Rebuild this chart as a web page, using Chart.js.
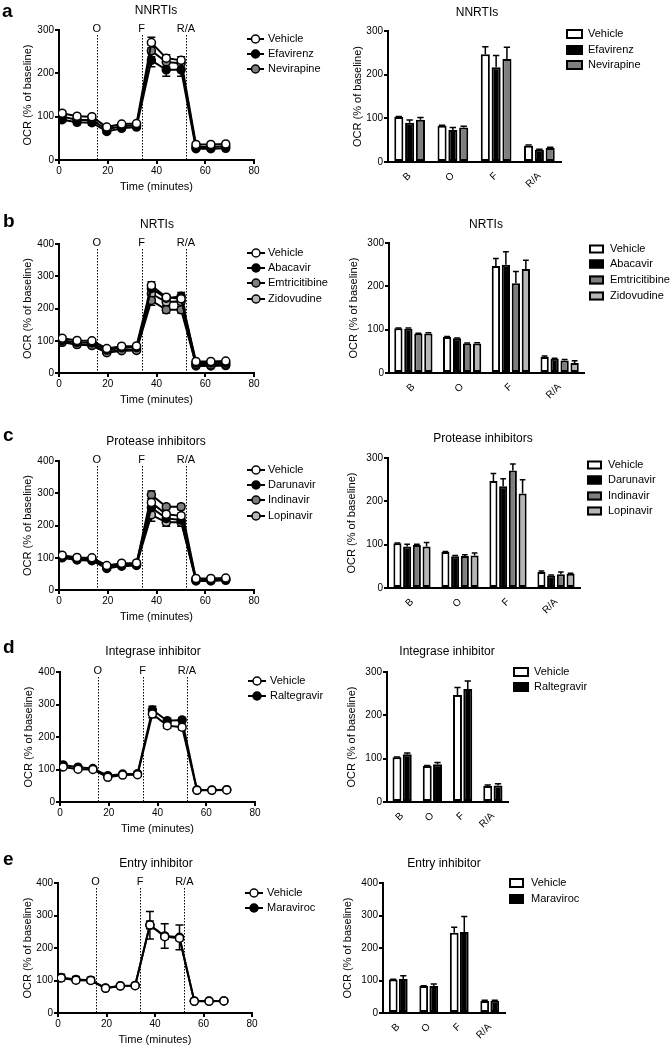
<!DOCTYPE html>
<html>
<head>
<meta charset="utf-8">
<script src="https://cdn.jsdelivr.net/npm/chart.js@4.4.1/dist/chart.umd.min.js"></script>
<style>
  html, body { margin: 0; padding: 0; background: #fff; }
  #page { position: relative; width: 670px; height: 1050px; overflow: hidden; }
  #page canvas { position: absolute; }
</style>
</head>
<body>
<div id="page"></div>
<script>
// --- time course data (Seahorse OCR, % of baseline) ---
const timePoints = [1.3, 7.4, 13.5, 19.6, 25.7, 31.8, 37.9, 44.0, 50.1, 56.2, 62.3, 68.4];
const injectionTimes = [15.5, 33.9, 52.1];
const injectionLabels = ["O", "F", "R/A"];

const vehicleTrace = [108, 101, 100, 76, 83, 84, 271, 235, 230, 36, 36, 37];
const vehicleTraceErr = [4, 3, 3, 3, 3, 3, 12, 8, 8, 2, 2, 2];
const efavirenzTrace = [93, 87, 86, 66, 73, 76, 230, 208, 208, 26, 26, 27];
const efavirenzTraceErr = [5, 5, 5, 4, 4, 4, 15, 15, 15, 2, 2, 2];
const nevirapineTrace = [100, 93, 92, 71, 78, 80, 252, 226, 223, 30, 30, 32];
const nevirapineTraceErr = [4, 4, 4, 3, 3, 3, 14, 10, 10, 2, 2, 2];
const abacavirTrace = [101, 95, 93, 71, 78, 79, 262, 232, 238, 31, 31, 32];
const abacavirTraceErr = [4, 4, 4, 3, 3, 3, 15, 10, 12, 2, 2, 2];
const emtricitabineTrace = [95, 88, 85, 63, 69, 70, 225, 196, 196, 26, 25, 27];
const emtricitabineTraceErr = [4, 4, 4, 3, 3, 3, 15, 10, 10, 2, 2, 2];
const zidovudineTrace = [96, 89, 87, 65, 71, 72, 246, 220, 222, 22, 22, 23];
const zidovudineTraceErr = [4, 4, 4, 3, 3, 3, 12, 10, 10, 2, 2, 2];
const darunavirTrace = [100, 93, 91, 67, 74, 76, 255, 222, 217, 28, 28, 30];
const darunavirTraceErr = [4, 4, 4, 3, 3, 3, 15, 12, 12, 2, 2, 2];
const indinavirTrace = [102, 97, 96, 72, 79, 81, 295, 258, 258, 33, 33, 34];
const indinavirTraceErr = [4, 4, 4, 3, 3, 3, 12, 8, 8, 2, 2, 2];
const lopinavirTrace = [101, 95, 94, 70, 77, 79, 233, 210, 210, 31, 31, 32];
const lopinavirTraceErr = [4, 4, 4, 3, 3, 3, 20, 12, 12, 2, 2, 2];
const raltegravirTrace = [114, 107, 103, 81, 86, 87, 283, 250, 252, 37, 37, 38];
const raltegravirTraceErr = [4, 4, 4, 3, 3, 3, 12, 8, 8, 2, 2, 2];
const maravirocTrace = [109, 103, 101, 77, 84, 85, 270, 237, 233, 37, 37, 37];
const maravirocTraceErr = [10, 9, 9, 4, 4, 4, 42, 38, 38, 3, 3, 3];

// --- phase averages ---
const phases = ["B", "O", "F", "R/A"];
const vehicleBars = [103, 83, 247, 37];
const vehicleBarsErr = [1, 1, 17, 2];
const efavirenzBars = [90, 73, 217, 28];
const efavirenzBarsErr = [6, 6, 27, 1];
const nevirapineBars = [97, 79, 236, 32];
const nevirapineBarsErr = [5, 3, 27, 2];
const abacavirBars = [102, 80, 250, 33];
const abacavirBarsErr = [2, 1, 30, 1];
const emtricitabineBars = [91, 68, 207, 29];
const emtricitabineBarsErr = [1, 1, 27, 2];
const zidovudineBars = [91, 68, 240, 23];
const zidovudineBarsErr = [2, 2, 20, 5];
const darunavirBars = [96, 73, 235, 29];
const darunavirBarsErr = [5, 2, 17, 1];
const indinavirBars = [99, 74, 271, 32];
const indinavirBarsErr = [2, 3, 15, 5];
const lopinavirBars = [96, 75, 218, 33];
const lopinavirBarsErr = [9, 6, 32, 1];
const raltegravirBars = [110, 87, 261, 38];
const raltegravirBarsErr = [3, 4, 18, 4];
const maravirocBars = [105, 83, 249, 38];
const maravirocBarsErr = [10, 6, 48, 1];

const WHITE = "#ffffff", BLACK = "#000000", DARK = "#7e7e7e", LIGHT = "#b6b6b6";
const FONT = "'Liberation Sans', Arial, Helvetica, sans-serif";

Chart.defaults.font.family = FONT;
Chart.defaults.color = "#000";

function addCanvas(box) {
  const c = document.createElement("canvas");
  c.width = box[2];
  c.height = box[3];
  c.style.left = box[0] + "px";
  c.style.top = box[1] + "px";
  document.getElementById("page").appendChild(c);
  return c;
}

// error bars: both directions for traces, upward only for bars
function errorBars(both) {
  return {
    id: "errorBars",
    [both ? "beforeDatasetsDraw" : "afterDatasetsDraw"](chart) {
      const ctx = chart.ctx;
      const y = chart.scales.y;
      ctx.save();
      ctx.strokeStyle = "#000";
      ctx.lineWidth = 1.5;
      chart.data.datasets.forEach((ds, i) => {
        const meta = chart.getDatasetMeta(i);
        meta.data.forEach((el, j) => {
          const e = ds.errors[j];
          if (!e) return;
          const v = both ? ds.data[j].y : ds.data[j];
          const cap = both ? 4 : el.width * 0.35;
          const top = y.getPixelForValue(v + e);
          const bot = both ? y.getPixelForValue(v - e) : y.getPixelForValue(v);
          ctx.beginPath();
          ctx.moveTo(el.x, top);
          ctx.lineTo(el.x, bot);
          ctx.moveTo(el.x - cap, top);
          ctx.lineTo(el.x + cap, top);
          if (both) {
            ctx.moveTo(el.x - cap, bot);
            ctx.lineTo(el.x + cap, bot);
          }
          ctx.stroke();
        });
      });
      ctx.restore();
    }
  };
}

const injections = {
  id: "injections",
  beforeDatasetsDraw(chart) {
    const { ctx, chartArea, scales: { x } } = chart;
    ctx.save();
    ctx.strokeStyle = "#000";
    ctx.lineWidth = 1;
    ctx.setLineDash([1.5, 1.5]);
    injectionTimes.forEach((t) => {
      const px = Math.round(x.getPixelForValue(t)) + 0.5;
      ctx.beginPath();
      ctx.moveTo(px, chartArea.top + 5);
      ctx.lineTo(px, chartArea.bottom);
      ctx.stroke();
    });
    ctx.setLineDash([]);
    ctx.fillStyle = "#000";
    ctx.font = "11px " + FONT;
    ctx.textAlign = "center";
    ctx.textBaseline = "middle";
    injectionTimes.forEach((t, i) => {
      ctx.fillText(injectionLabels[i], x.getPixelForValue(t), chartArea.top - 1);
    });
    ctx.restore();
  }
};

// panel letter, title and legend
function decor(p, kind) {
  const dx = p.box[0], dy = p.box[1];
  return {
    id: "decor",
    afterDraw(chart) {
      const ctx = chart.ctx;
      ctx.save();
      ctx.fillStyle = "#000";
      if (p.letter) {
        ctx.font = "bold 19px " + FONT;
        ctx.textAlign = "left";
        ctx.textBaseline = "alphabetic";
        ctx.fillText(p.letter, p.letterAt[0] - dx, p.letterAt[1] - dy);
      }
      ctx.font = "12px " + FONT;
      ctx.textAlign = "center";
      ctx.textBaseline = "middle";
      ctx.fillText(p.title, p.titleAt[0] - dx, p.titleAt[1] - dy);

      const lg = p.legend;
      chart.data.datasets.forEach((ds, i) => {
        const y = lg.ys[i] - dy;
        ctx.strokeStyle = "#000";
        if (kind === "line") {
          ctx.lineWidth = 2;
          ctx.beginPath();
          ctx.moveTo(lg.x0 - dx, y);
          ctx.lineTo(lg.x1 - dx, y);
          ctx.stroke();
          ctx.beginPath();
          ctx.arc((lg.x0 + lg.x1) / 2 - dx, y, 4, 0, Math.PI * 2);
          ctx.fillStyle = ds.pointBackgroundColor;
          ctx.fill();
          ctx.lineWidth = 1.5;
          ctx.stroke();
        } else {
          ctx.fillStyle = ds.backgroundColor;
          ctx.fillRect(lg.x0 - dx, y - lg.h / 2, lg.w, lg.h);
          ctx.lineWidth = 2;
          ctx.strokeRect(lg.x0 - dx + 1, y - lg.h / 2 + 1, lg.w - 2, lg.h - 2);
        }
        ctx.fillStyle = "#000";
        ctx.font = "11px " + FONT;
        ctx.textAlign = "left";
        ctx.textBaseline = "middle";
        ctx.fillText(ds.label, lg.textX - dx, y);
      });
      ctx.restore();
    }
  };
}

function axisStyle(ticks) {
  return {
    grid: { drawOnChartArea: false, drawTicks: ticks, tickLength: 4, color: "#000", lineWidth: 2 },
    border: { display: true, color: "#000", width: 2 }
  };
}

function padding(p, yw, xh) {
  const [L, T, W, H] = p.box;
  return {
    left: p.plot.x0 - L - yw,
    right: L + W - p.plot.x1,
    top: p.plot.top - T,
    bottom: T + H - p.plot.bottom - xh
  };
}

function yAxis(p) {
  return Object.assign({
    min: 0,
    max: p.yMax,
    ticks: { stepSize: 100, padding: 1, font: { size: 10 } },
    title: { display: true, text: "OCR (% of baseline)", padding: 0, font: { size: 11 } },
    afterFit: (s) => { s.width = p.yWidth; }
  }, axisStyle(true));
}

function lineChart(p) {
  const xh = 34;
  return new Chart(addCanvas(p.box), {
    type: "line",
    data: {
      datasets: p.series.map((s) => ({
        label: s.name,
        data: timePoints.map((t, i) => ({ x: t, y: s.values[i] })),
        errors: s.errors,
        borderColor: BLACK,
        borderWidth: 2,
        pointRadius: 4,
        pointHoverRadius: 4,
        pointBorderWidth: 1.5,
        pointBorderColor: BLACK,
        pointBackgroundColor: s.color,
        tension: 0,
        fill: false
      }))
    },
    options: {
      responsive: false,
      animation: false,
      events: [],
      layout: { padding: padding(p, p.yWidth, xh) },
      plugins: { legend: { display: false }, tooltip: { enabled: false } },
      scales: {
        x: Object.assign({
          type: "linear",
          min: 0,
          max: 80,
          ticks: { stepSize: 20, padding: 1, font: { size: 10 } },
          title: { display: true, text: "Time (minutes)", padding: 0, font: { size: 11 } },
          afterFit: (s) => { s.height = xh; }
        }, axisStyle(true)),
        y: yAxis(p)
      }
    },
    plugins: [injections, errorBars(true), decor(p, "line")]
  });
}

function barChart(p) {
  const xh = 30;
  return new Chart(addCanvas(p.box), {
    type: "bar",
    data: {
      labels: phases,
      datasets: p.series.map((s) => ({
        label: s.name,
        data: s.values,
        errors: s.errors,
        backgroundColor: s.color,
        borderColor: BLACK,
        borderWidth: 2,
        borderSkipped: false,
        categoryPercentage: p.cp,
        barPercentage: p.bp
      }))
    },
    options: {
      responsive: false,
      animation: false,
      events: [],
      layout: { padding: padding(p, p.yWidth, xh) },
      plugins: { legend: { display: false }, tooltip: { enabled: false } },
      scales: {
        x: {
          ticks: { minRotation: 45, maxRotation: 45, autoSkip: false, padding: 0, font: { size: 10 } },
          grid: { display: false },
          border: { display: true, color: "#000", width: 2 },
          afterFit: (s) => { s.height = xh; }
        },
        y: yAxis(p)
      }
    },
    plugins: [errorBars(false), decor(p, "bar")]
  });
}

// ---- panel a: NNRTIs ----
lineChart({
  box: [0, 0, 335, 200], plot: { x0: 59, x1: 254, top: 30, bottom: 160 }, yMax: 300, yWidth: 38,
  letter: "a", letterAt: [2, 17], title: "NNRTIs", titleAt: [156, 11],
  legend: { x0: 247, x1: 264, textX: 268, ys: [39, 54, 69] },
  series: [
    { name: "Vehicle", values: vehicleTrace, errors: vehicleTraceErr, color: WHITE },
    { name: "Efavirenz", values: efavirenzTrace, errors: efavirenzTraceErr, color: BLACK },
    { name: "Nevirapine", values: nevirapineTrace, errors: nevirapineTraceErr, color: DARK }
  ]
});
barChart({
  box: [335, 0, 335, 200], plot: { x0: 388, x1: 561, top: 31, bottom: 162 }, yMax: 300, yWidth: 37,
  title: "NNRTIs", titleAt: [477, 13], cp: 0.75, bp: 0.84,
  legend: { x0: 566, w: 17, h: 10, textX: 588, ys: [34, 50, 65] },
  series: [
    { name: "Vehicle", values: vehicleBars, errors: vehicleBarsErr, color: WHITE },
    { name: "Efavirenz", values: efavirenzBars, errors: efavirenzBarsErr, color: BLACK },
    { name: "Nevirapine", values: nevirapineBars, errors: nevirapineBarsErr, color: DARK }
  ]
});

// ---- panel b: NRTIs ----
lineChart({
  box: [0, 198, 335, 212], plot: { x0: 59, x1: 254, top: 244, bottom: 373 }, yMax: 400, yWidth: 38,
  letter: "b", letterAt: [3, 227], title: "NRTIs", titleAt: [157, 225],
  legend: { x0: 247, x1: 265, textX: 268, ys: [253, 268, 283, 299] },
  series: [
    { name: "Vehicle", values: vehicleTrace, errors: vehicleTraceErr, color: WHITE },
    { name: "Abacavir", values: abacavirTrace, errors: abacavirTraceErr, color: BLACK },
    { name: "Emtricitibine", values: emtricitabineTrace, errors: emtricitabineTraceErr, color: DARK },
    { name: "Zidovudine", values: zidovudineTrace, errors: zidovudineTraceErr, color: LIGHT }
  ]
});
barChart({
  box: [335, 198, 335, 212], plot: { x0: 389, x1: 584, top: 243, bottom: 373 }, yMax: 300, yWidth: 42,
  title: "NRTIs", titleAt: [486, 225], cp: 0.82, bp: 0.83,
  legend: { x0: 589, w: 15, h: 9, textX: 610, ys: [249, 264, 280, 296] },
  series: [
    { name: "Vehicle", values: vehicleBars, errors: vehicleBarsErr, color: WHITE },
    { name: "Abacavir", values: abacavirBars, errors: abacavirBarsErr, color: BLACK },
    { name: "Emtricitibine", values: emtricitabineBars, errors: emtricitabineBarsErr, color: DARK },
    { name: "Zidovudine", values: zidovudineBars, errors: zidovudineBarsErr, color: LIGHT }
  ]
});

// ---- panel c: protease inhibitors ----
lineChart({
  box: [0, 410, 335, 215], plot: { x0: 59, x1: 254, top: 461, bottom: 590 }, yMax: 400, yWidth: 38,
  letter: "c", letterAt: [3, 441], title: "Protease inhibitors", titleAt: [156, 442],
  legend: { x0: 247, x1: 265, textX: 268, ys: [470, 485, 500, 516] },
  series: [
    { name: "Vehicle", values: vehicleTrace, errors: vehicleTraceErr, color: WHITE },
    { name: "Darunavir", values: darunavirTrace, errors: darunavirTraceErr, color: BLACK },
    { name: "Indinavir", values: indinavirTrace, errors: indinavirTraceErr, color: DARK },
    { name: "Lopinavir", values: lopinavirTrace, errors: lopinavirTraceErr, color: LIGHT }
  ]
});
barChart({
  box: [335, 410, 335, 215], plot: { x0: 388, x1: 580, top: 458, bottom: 588 }, yMax: 300, yWidth: 43,
  title: "Protease inhibitors", titleAt: [483, 439], cp: 0.81, bp: 0.83,
  legend: { x0: 587, w: 15, h: 9, textX: 608, ys: [465, 480, 496, 511] },
  series: [
    { name: "Vehicle", values: vehicleBars, errors: vehicleBarsErr, color: WHITE },
    { name: "Darunavir", values: darunavirBars, errors: darunavirBarsErr, color: BLACK },
    { name: "Indinavir", values: indinavirBars, errors: indinavirBarsErr, color: DARK },
    { name: "Lopinavir", values: lopinavirBars, errors: lopinavirBarsErr, color: LIGHT }
  ]
});

// ---- panel d: integrase inhibitor ----
lineChart({
  box: [0, 625, 335, 215], plot: { x0: 60, x1: 255, top: 672, bottom: 802 }, yMax: 400, yWidth: 38,
  letter: "d", letterAt: [3, 653], title: "Integrase inhibitor", titleAt: [153, 652],
  legend: { x0: 248, x1: 266, textX: 270, ys: [681, 696] },
  series: [
    { name: "Vehicle", values: vehicleTrace, errors: vehicleTraceErr, color: WHITE },
    { name: "Raltegravir", values: raltegravirTrace, errors: raltegravirTraceErr, color: BLACK }
  ]
});
barChart({
  box: [335, 625, 335, 215], plot: { x0: 387, x1: 508, top: 672, bottom: 802 }, yMax: 300, yWidth: 42,
  title: "Integrase inhibitor", titleAt: [447, 652], cp: 0.68, bp: 0.87,
  legend: { x0: 513, w: 16, h: 10, textX: 534, ys: [672, 687] },
  series: [
    { name: "Vehicle", values: vehicleBars, errors: vehicleBarsErr, color: WHITE },
    { name: "Raltegravir", values: raltegravirBars, errors: raltegravirBarsErr, color: BLACK }
  ]
});

// ---- panel e: entry inhibitor ----
lineChart({
  box: [0, 840, 335, 210], plot: { x0: 58, x1: 252, top: 883, bottom: 1013 }, yMax: 400, yWidth: 37,
  letter: "e", letterAt: [3, 865], title: "Entry inhibitor", titleAt: [156, 864],
  legend: { x0: 245, x1: 263, textX: 267, ys: [893, 908] },
  series: [
    { name: "Vehicle", values: vehicleTrace, errors: vehicleTraceErr, color: WHITE },
    { name: "Maraviroc", values: maravirocTrace, errors: maravirocTraceErr, color: BLACK }
  ]
});
barChart({
  box: [335, 840, 335, 210], plot: { x0: 383, x1: 505, top: 883, bottom: 1013 }, yMax: 400, yWidth: 42,
  title: "Entry inhibitor", titleAt: [444, 864], cp: 0.66, bp: 0.87,
  legend: { x0: 509, w: 15, h: 10, textX: 531, ys: [883, 899] },
  series: [
    { name: "Vehicle", values: vehicleBars, errors: vehicleBarsErr, color: WHITE },
    { name: "Maraviroc", values: maravirocBars, errors: maravirocBarsErr, color: BLACK }
  ]
});
</script>
</body>
</html>
